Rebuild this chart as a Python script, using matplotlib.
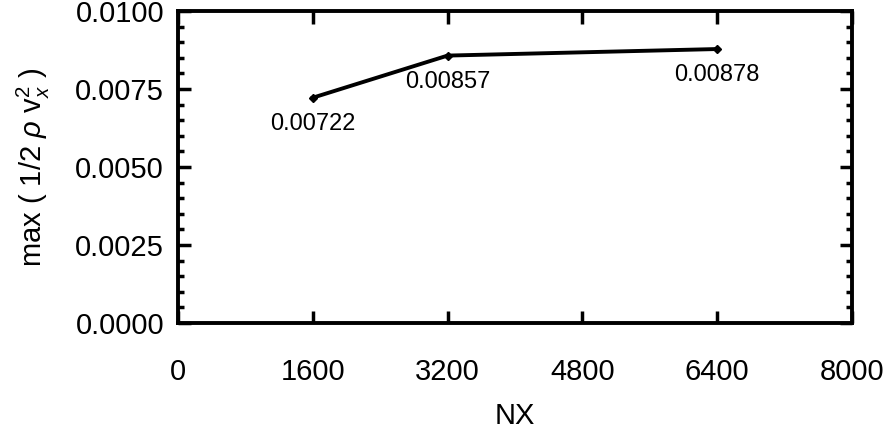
import matplotlib
matplotlib.use("Agg")
import matplotlib.pyplot as plt
from matplotlib.ticker import MultipleLocator, FormatStrFormatter

nx = [1600, 3200, 6400]
vals = [0.00722, 0.00857, 0.00878]
labels = ["0.00722", "0.00857", "0.00878"]
xticks = [0, 1600, 3200, 4800, 6400, 8000]
yticks = [0.0, 0.0025, 0.0050, 0.0075, 0.0100]

plt.rcParams['font.family'] = ['Liberation Sans', 'DejaVu Sans']
plt.rcParams['mathtext.fontset'] = 'custom'
plt.rcParams['mathtext.rm'] = 'Liberation Sans'
plt.rcParams['mathtext.it'] = 'Liberation Sans:italic'

fig = plt.figure(figsize=(8.93, 4.37), dpi=100)
ax = fig.add_axes([0.1993, 0.2609, 0.7548, 0.714])

ax.plot(nx, vals, color='black', lw=2.8, marker='D', ms=4.5)
for x, y, t in zip(nx, vals, labels):
    ax.annotate(t, (x, y), xytext=(0, -19), textcoords='offset points',
                ha='center', va='center', fontsize=17)

ax.set_xlim(0, 8000)
ax.set_ylim(0, 0.0100)
ax.set_xticks(xticks)
ax.set_yticks(yticks)
ax.yaxis.set_major_formatter(FormatStrFormatter('%.4f'))
ax.yaxis.set_minor_locator(MultipleLocator(0.0005))
for s in ax.spines.values():
    s.set_linewidth(2.8)
ax.tick_params(which='both', direction='in', top=True, right=True, width=2.5, labelsize=21)
ax.tick_params(which='major', length=9)
ax.tick_params(which='minor', length=4.5)
ax.tick_params(axis='x', pad=25)
ax.tick_params(axis='y', pad=10)
ax.set_xlabel('NX', fontsize=21, labelpad=12)
ax.set_ylabel(r'max ( 1/2 $\rho$ v$_x^{2}$ )', fontsize=21, labelpad=17)

fig.savefig('out.png', dpi=100)
